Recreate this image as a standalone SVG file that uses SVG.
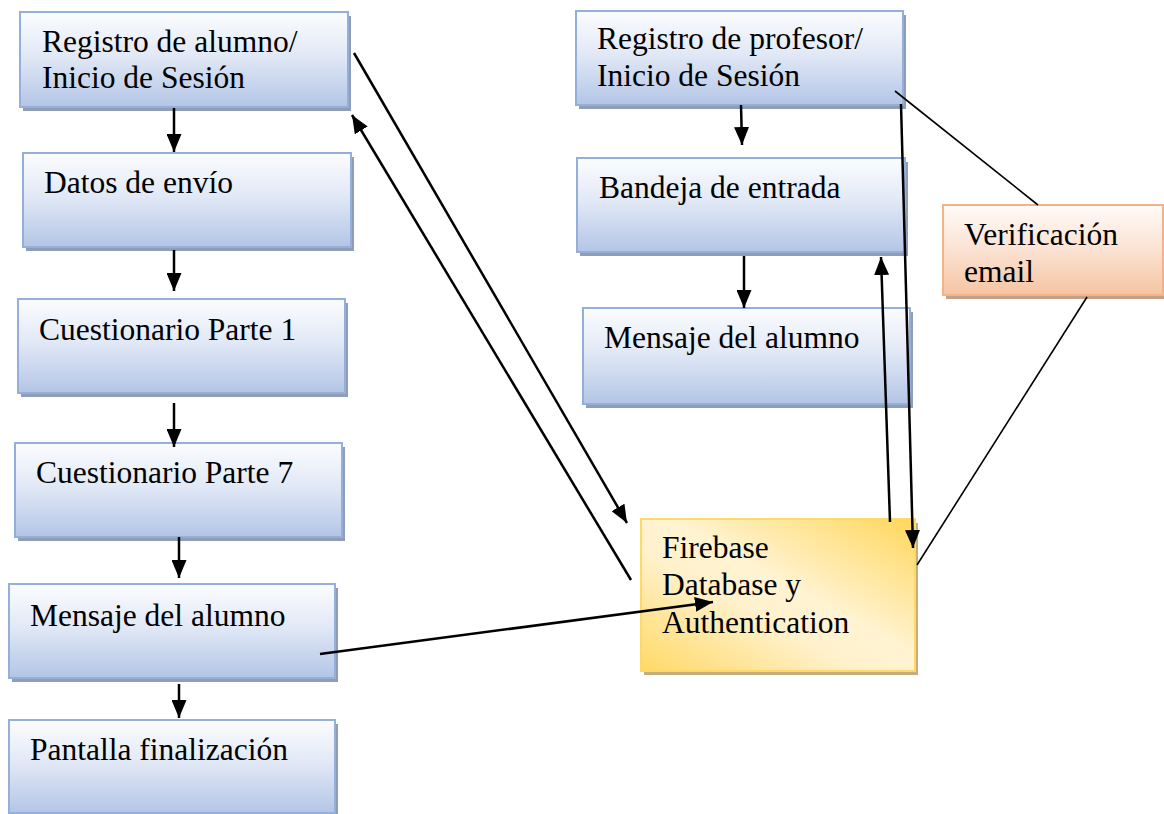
<svg xmlns="http://www.w3.org/2000/svg" width="1164" height="814" viewBox="0 0 1164 814">
<style>
.bg{fill:#ffffff}
.blue{fill:url(#gBlue);stroke:#94B0DA;stroke-width:2}
.bshadow{fill:#8F9DB6}
.orange{fill:url(#gOrange);stroke:#F5B28A;stroke-width:2}
.oshadow{fill:#C2A28A}
.gold{fill:url(#gGold);stroke:#FFD966;stroke-width:2}
.gshadow{fill:#C4AE7E}
.t{font-family:"Liberation Serif","Times New Roman",serif;font-size:31.5px;fill:#000}
.c{fill:none;stroke:#000;stroke-width:2.5}
.thin{fill:none;stroke:#000;stroke-width:1.6}
</style>
<defs>
<linearGradient id="gBlue" x1="0" y1="0" x2="0" y2="1">
<stop offset="0" stop-color="#FBFCFE"/>
<stop offset="0.45" stop-color="#E2E9F6"/>
<stop offset="1" stop-color="#B3C5E6"/>
</linearGradient>
<linearGradient id="gOrange" x1="0" y1="0" x2="0" y2="1">
<stop offset="0" stop-color="#FFFBF8"/>
<stop offset="0.5" stop-color="#FBE2D2"/>
<stop offset="1" stop-color="#F5C4A2"/>
</linearGradient>
<linearGradient id="gGold" x1="1" y1="0" x2="0" y2="1">
<stop offset="0" stop-color="#FFD75C"/>
<stop offset="0.45" stop-color="#FFF3D2"/>
<stop offset="0.6" stop-color="#FFF1CC"/>
<stop offset="1" stop-color="#FFD966"/>
</linearGradient>
<marker id="arr" markerUnits="userSpaceOnUse" markerWidth="18" markerHeight="15" refX="18" refY="7.5" orient="auto">
<path d="M0,0 L18,7.5 L0,15 z" fill="#000"/>
</marker>
</defs>
<rect class="bg" x="0" y="0" width="1164" height="814"/>

<g id="n-registro-alumno">
<rect class="bshadow" x="23" y="16" width="328" height="95"/>
<rect class="blue" x="20" y="12" width="328" height="95"/>
<text class="t" x="42" y="52">Registro de alumno/</text>
<text class="t" x="42" y="88">Inicio de Sesión</text>
</g>
<g id="n-datos-envio">
<rect class="bshadow" x="26" y="157" width="328" height="94"/>
<rect class="blue" x="23" y="153" width="328" height="94"/>
<text class="t" x="44" y="193">Datos de envío</text>
</g>
<g id="n-cuestionario-1">
<rect class="bshadow" x="21" y="303" width="327" height="94"/>
<rect class="blue" x="18" y="299" width="327" height="94"/>
<text class="t" x="39" y="340">Cuestionario Parte 1</text>
</g>
<g id="n-cuestionario-7">
<rect class="bshadow" x="18" y="447" width="327" height="94"/>
<rect class="blue" x="15" y="443" width="327" height="94"/>
<text class="t" x="36" y="483">Cuestionario Parte 7</text>
</g>
<g id="n-mensaje-alumno-izq">
<rect class="bshadow" x="12" y="588" width="326" height="94"/>
<rect class="blue" x="9" y="584" width="326" height="94"/>
<text class="t" x="30" y="626">Mensaje del alumno</text>
</g>
<g id="n-pantalla-final">
<rect class="bshadow" x="12" y="724" width="326" height="94"/>
<rect class="blue" x="9" y="720" width="326" height="93"/>
<text class="t" x="30" y="760">Pantalla finalización</text>
</g>

<g id="n-registro-profesor">
<rect class="bshadow" x="579" y="15" width="327" height="94"/>
<rect class="blue" x="576" y="11" width="327" height="94"/>
<text class="t" x="597" y="49">Registro de profesor/</text>
<text class="t" x="597" y="86">Inicio de Sesión</text>
</g>
<g id="n-bandeja">
<rect class="bshadow" x="580" y="162" width="328" height="94"/>
<rect class="blue" x="577" y="158" width="328" height="94"/>
<text class="t" x="599" y="198">Bandeja de entrada</text>
</g>
<g id="n-mensaje-alumno-der">
<rect class="bshadow" x="586" y="312" width="327" height="96"/>
<rect class="blue" x="583" y="308" width="327" height="96"/>
<text class="t" x="604" y="348">Mensaje del alumno</text>
</g>

<g id="n-verificacion">
<rect class="oshadow" x="946" y="209" width="220" height="90"/>
<rect class="orange" x="943" y="205" width="220" height="90"/>
<text class="t" x="964" y="245">Verificación</text>
<text class="t" x="964" y="282">email</text>
</g>

<g id="n-firebase">
<rect class="gshadow" x="644" y="523" width="274" height="152"/>
<rect class="gold" x="641" y="519" width="274" height="152"/>
<text class="t" x="662" y="558">Firebase</text>
<text class="t" x="662" y="595">Database y</text>
<text class="t" x="662" y="633">Authentication</text>
</g>

<g id="connectors">
<line class="c" x1="174" y1="108" x2="174" y2="152" marker-end="url(#arr)"/>
<line class="c" x1="174" y1="250" x2="174" y2="291" marker-end="url(#arr)"/>
<line class="c" x1="174" y1="403" x2="174" y2="447" marker-end="url(#arr)"/>
<line class="c" x1="179" y1="537" x2="179" y2="578" marker-end="url(#arr)"/>
<line class="c" x1="179" y1="684" x2="179" y2="718" marker-end="url(#arr)"/>
<line class="c" x1="741" y1="105" x2="742" y2="145" marker-end="url(#arr)"/>
<line class="c" x1="744" y1="256" x2="744" y2="308" marker-end="url(#arr)"/>
<line class="c" x1="354" y1="53" x2="627" y2="523" marker-end="url(#arr)"/>
<line class="c" x1="631" y1="580" x2="352" y2="115" marker-end="url(#arr)"/>
<line class="c" x1="320" y1="654" x2="713" y2="602" marker-end="url(#arr)"/>
<line class="c" x1="890" y1="522" x2="881" y2="257" marker-end="url(#arr)"/>
<line class="c" x1="901" y1="104" x2="913" y2="548" marker-end="url(#arr)"/>
<line class="thin" x1="895" y1="91" x2="1038" y2="205"/>
<line class="thin" x1="1087" y1="297" x2="917" y2="565"/>
</g>
</svg>
